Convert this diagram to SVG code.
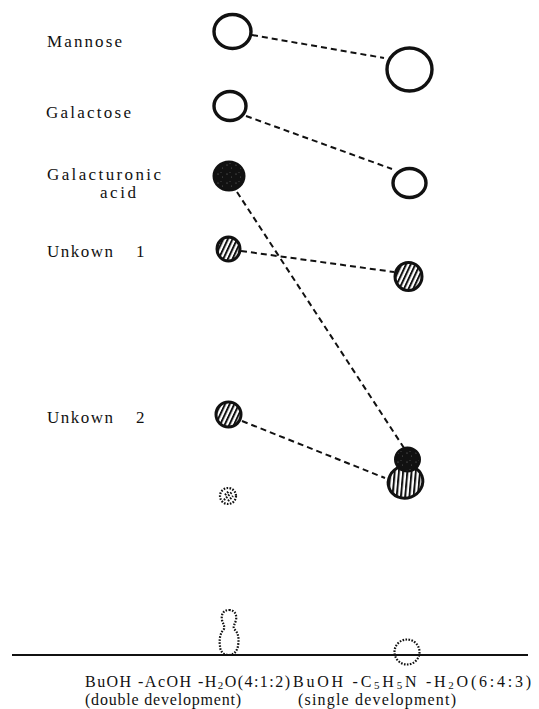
<svg xmlns="http://www.w3.org/2000/svg" width="539" height="709" viewBox="0 0 539 709">
  <style>
    .lbl { font-family: "Liberation Serif", "Times New Roman", serif; font-size: 17px; fill: #111; }
    .sol { font-family: "Liberation Serif", "Times New Roman", serif; font-size: 16px; fill: #111; }
    .sub { font-size: 11px; }
    .ring { fill: #fff; stroke: #111; stroke-width: 3.4; }
    .hatch { fill: url(#hatch); stroke: #111; stroke-width: 3; }
    .dark { fill: url(#speckle); stroke: #111; stroke-width: 2; }
    .dash { fill: none; stroke: #111; stroke-width: 2; stroke-dasharray: 6 4; }
    .dots { fill: none; stroke: #111; stroke-width: 2.2; stroke-dasharray: 1.6 1.4; }
  </style>
  <defs>
    <!-- diagonal striping for the hatched spots -->
    <pattern id="hatch" patternUnits="userSpaceOnUse" width="4.2" height="10" patternTransform="rotate(25)">
      <rect width="4.2" height="10" fill="#fff"/>
      <rect width="2" height="10" fill="#111"/>
    </pattern>
    <!-- near-solid black with a few light specks -->
    <pattern id="speckle" patternUnits="userSpaceOnUse" width="9" height="9">
      <rect width="9" height="9" fill="#111"/>
      <circle cx="2" cy="3" r="0.6" fill="#777"/>
      <circle cx="6.5" cy="6" r="0.5" fill="#666"/>
      <circle cx="5" cy="1.5" r="0.4" fill="#888"/>
    </pattern>
  </defs>

  <rect width="539" height="709" fill="#fff"/>

  <!-- compound labels -->
  <g id="labels">
    <text class="lbl" x="47" y="47" textLength="75" lengthAdjust="spacing">Mannose</text>
    <text class="lbl" x="46" y="118" textLength="85" lengthAdjust="spacing">Galactose</text>
    <text class="lbl" x="47" y="180" textLength="114" lengthAdjust="spacing">Galacturonic</text>
    <text class="lbl" x="100" y="198" textLength="36" lengthAdjust="spacing">acid</text>
    <text class="lbl" x="47" y="257" textLength="66" lengthAdjust="spacing">Unkown</text>
    <text class="lbl" x="136" y="257">1</text>
    <text class="lbl" x="47" y="423" textLength="66" lengthAdjust="spacing">Unkown</text>
    <text class="lbl" x="136" y="423">2</text>
  </g>

  <!-- connectors between matching spots -->
  <g id="connectors">
    <line class="dash" x1="252" y1="35" x2="384" y2="58"/>
    <line class="dash" x1="246" y1="116" x2="392" y2="169"/>
    <line class="dash" x1="237" y1="192" x2="404" y2="448"/>
    <line class="dash" x1="241" y1="251" x2="394" y2="272"/>
    <line class="dash" x1="242" y1="421" x2="385" y2="478"/>
  </g>

  <!-- spots, left lane (BuOH-AcOH-H2O) -->
  <g id="mannose-left"><ellipse class="ring" cx="232.5" cy="31.5" rx="18.5" ry="17"/></g>
  <g id="galactose-left"><ellipse class="ring" cx="230" cy="106" rx="16" ry="14.5"/></g>
  <g id="galacturonic-left"><ellipse class="dark" cx="229" cy="176" rx="15.5" ry="14.5"/></g>
  <g id="unknown1-left"><ellipse class="hatch" cx="228.5" cy="249" rx="11.5" ry="12"/></g>
  <g id="unknown2-left"><ellipse class="hatch" cx="228.5" cy="414.5" rx="12.5" ry="12.5"/></g>
  <g id="faint-left">
    <circle class="dots" cx="228" cy="496" r="8"/>
    <path class="dots" d="M224,500 L232,492 M225,495 L229,491 M228,501 L233,496"/>
  </g>

  <!-- spots, right lane (BuOH-C5H5N-H2O) -->
  <g id="mannose-right"><ellipse class="ring" cx="409.5" cy="69.5" rx="22.5" ry="21.5"/></g>
  <g id="galactose-right"><ellipse class="ring" cx="409.5" cy="183" rx="16.5" ry="14.5"/></g>
  <g id="unknown1-right"><ellipse class="hatch" cx="408.5" cy="276.5" rx="13.5" ry="14"/></g>
  <g id="mixed-right">
    <ellipse class="hatch" cx="405.5" cy="482" rx="17.5" ry="16" transform="rotate(-20 405.5 482)"/>
    <ellipse class="dark" cx="407.5" cy="459.5" rx="12.5" ry="12"/>
  </g>

  <!-- start line with origins -->
  <g id="origin-line">
    <line x1="12" y1="655" x2="528" y2="655" stroke="#111" stroke-width="2"/>
  </g>
  <g id="origin-left">
    <path class="dots" fill="#fff" d="M229,610 C235,610 237,615 236,620 C235,624 233,626 234,629 C239,633 239,640 238,646 C237,651 234,655 229,655 C223,655 220,651 220,646 C219,640 220,633 224,629 C225,626 223,624 222,620 C221,615 223,610 229,610 Z"/>
  </g>
  <g id="origin-right">
    <circle class="dots" fill="#fff" cx="407" cy="652" r="12.5"/>
  </g>

  <!-- solvent systems -->
  <g id="solvents">
    <text class="sol" x="85" y="687" textLength="205" lengthAdjust="spacing">BuOH -AcOH -H<tspan class="sub" dy="2">2</tspan><tspan dy="-2">O(4:1:2)</tspan></text>
    <text class="sol" x="293" y="687" textLength="238" lengthAdjust="spacing">BuOH -C<tspan class="sub" dy="2">5</tspan><tspan dy="-2">H</tspan><tspan class="sub" dy="2">5</tspan><tspan dy="-2">N -H</tspan><tspan class="sub" dy="2">2</tspan><tspan dy="-2">O(6:4:3)</tspan></text>
    <text class="sol" x="85" y="705" textLength="156" lengthAdjust="spacing">(double development)</text>
    <text class="sol" x="298" y="705" textLength="158" lengthAdjust="spacing">(single development)</text>
  </g>
</svg>
